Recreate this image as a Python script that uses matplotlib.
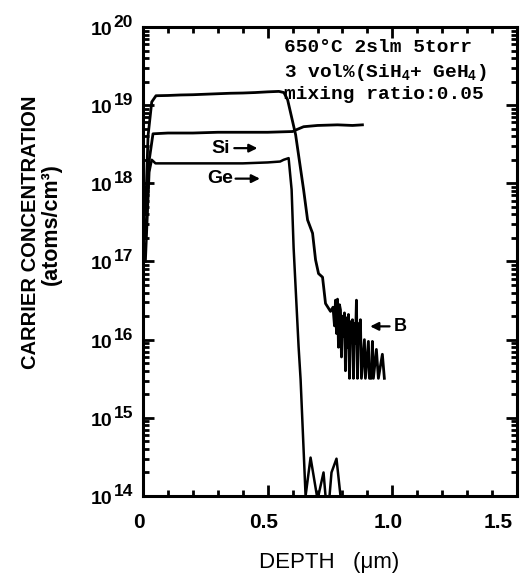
import matplotlib.pyplot as plt
import numpy as np
import matplotlib.transforms as mtransforms
from matplotlib.ticker import MultipleLocator, LogLocator, NullFormatter

plt.rcParams['font.family'] = ['Liberation Sans', 'DejaVu Sans']
plt.rcParams['font.weight'] = 'bold'
plt.rcParams['mathtext.fontset'] = 'custom'
plt.rcParams['mathtext.rm'] = 'Liberation Sans:bold'
plt.rcParams['mathtext.bf'] = 'Liberation Sans:bold'
plt.rcParams['mathtext.it'] = 'Liberation Sans:bold'

# boron profile (top curve with noisy tail)
b_depth = [0.010, 0.020, 0.035, 0.052, 0.10, 0.15, 0.20, 0.25, 0.30, 0.35, 0.40,
           0.45, 0.50, 0.545, 0.565, 0.58, 0.612, 0.644, 0.66, 0.68, 0.692, 0.704,
           0.72, 0.732, 0.752, 0.762, 0.768, 0.772, 0.776, 0.78, 0.784, 0.788,
           0.792, 0.796, 0.80, 0.804, 0.808, 0.812, 0.816, 0.820, 0.824, 0.828,
           0.832, 0.836, 0.84, 0.844, 0.848, 0.852, 0.856, 0.860, 0.864, 0.868,
           0.872, 0.876, 0.888, 0.892, 0.904, 0.908, 0.916, 0.92, 0.924, 0.936,
           0.944, 0.96, 0.968]
b_conc = [4e17, 4e18, 1.1e19, 1.32e19, 1.33e19, 1.35e19, 1.36e19, 1.38e19, 1.4e19,
          1.42e19, 1.43e19, 1.45e19, 1.48e19, 1.5e19, 1.45e19, 1.17e19, 4.2e18,
          8.3e17, 3.4e17, 2.3e17, 1.05e17, 7e16, 6.3e16, 2.9e16, 2.3e16, 2.6e16,
          1.5e16, 3.2e16, 1.2e16, 3.3e16, 8e15, 2.8e16, 2.4e16, 6e15, 2.0e16,
          1.1e16, 2.2e16, 4e15, 1.9e16, 8e15, 2.1e16, 3.2e15, 1.7e16, 1.1e16,
          1.8e16, 3.2e15, 1.6e16, 9e15, 3.2e16, 3.2e15, 1.6e16, 1.2e16, 1.8e16,
          3.2e15, 1.0e16, 3.2e15, 9.5e15, 3.2e15, 3.2e15, 9.5e15, 3.2e15, 7.5e15,
          3.2e15, 6.5e15, 3.2e15]

# Si curve
si_depth = [0.010, 0.025, 0.040, 0.10, 0.20, 0.30, 0.40, 0.50, 0.60, 0.612,
            0.644, 0.70, 0.78, 0.84, 0.88]
si_conc = [2e17, 2e18, 4.3e18, 4.4e18, 4.4e18, 4.5e18, 4.5e18, 4.5e18, 4.6e18,
           4.8e18, 5.3e18, 5.5e18, 5.6e18, 5.5e18, 5.6e18]

# Ge curve
ge_depth = [0.010, 0.025, 0.035, 0.05, 0.10, 0.20, 0.30, 0.40, 0.50, 0.55, 0.564,
            0.584, 0.596, 0.604, 0.624, 0.632, 0.652, 0.672, 0.70, 0.724, 0.74,
            0.756, 0.776, 0.792, 0.81]
ge_conc = [1e17, 1.4e18, 2.0e18, 1.8e18, 1.8e18, 1.8e18, 1.8e18, 1.8e18, 1.85e18,
           1.9e18, 2.0e18, 2.1e18, 8.3e17, 1.5e17, 8.1e15, 3.1e15, 1e14, 3.1e14,
           9e13, 2e14, 5e13, 2e14, 3e14, 1e14, 9e13]

x_ticks = [0, 0.5, 1.0, 1.5]
x_ticklabels = ['0', '0.5', '1.0', '1.5']
y_exponents = [14, 15, 16, 17, 18, 19, 20]

fig = plt.figure(figsize=(5.26, 5.78), dpi=100)
ax = fig.add_axes([0.2719, 0.1419, 0.711, 0.8114])

ax.plot(b_depth, b_conc, color='black', lw=2.0)
ax.plot(si_depth, si_conc, color='black', lw=2.0)
ax.plot(ge_depth, ge_conc, color='black', lw=1.8)

ax.set_yscale('log')
ax.set_xlim(0, 1.5)
ax.set_ylim(1e14, 1e20)

ax.set_xticks(x_ticks, labels=x_ticklabels)
ax.xaxis.set_minor_locator(MultipleLocator(0.1))
ax.yaxis.set_major_locator(LogLocator(base=10, numticks=10))
ax.yaxis.set_minor_locator(LogLocator(base=10, subs=np.arange(2, 10), numticks=20))
ax.yaxis.set_minor_formatter(NullFormatter())

ax.tick_params(which='both', direction='in', top=True, right=True, width=2, color='black')
ax.tick_params(which='major', length=8)
ax.tick_params(which='minor', length=4)
ax.tick_params(axis='x', which='major', pad=12, labelsize=15)
ax.tick_params(axis='y', which='major', labelleft=False)
for s in ax.spines.values():
    s.set_linewidth(2.2)

# shift x tick labels slightly left like the original
shift = mtransforms.ScaledTranslation(-4 / 100, 0, fig.dpi_scale_trans)
for lab in ax.get_xticklabels():
    lab.set_transform(lab.get_transform() + shift)
ax.get_xticklabels()[-1].set_horizontalalignment('right')

# y tick labels 10^n with large exponent
for e in y_exponents:
    ax.annotate('10', xy=(0, 10.0 ** e), xycoords=('axes fraction', 'data'),
                xytext=(-31, -8), textcoords='offset pixels', ha='right', va='baseline',
                fontsize=14)
    ax.annotate(str(e), xy=(0, 10.0 ** e), xycoords=('axes fraction', 'data'),
                xytext=(-10, 0), textcoords='offset pixels', ha='right', va='baseline',
                fontsize=12.5)

fig.text(329 / 526, 1 - 568 / 578, 'DEPTH   (μm)', fontsize=16, fontweight='normal',
         ha='center', va='baseline')
fig.text(31 / 526, 1 - 232 / 578, 'CARRIER CONCENTRATION', rotation=90,
         ha='center', va='center', fontsize=14.5)
fig.text(51 / 526, 1 - 224 / 578, '(atoms/cm³)', rotation=90,
         ha='center', va='center', fontsize=15.5)

# condition text
cond = dict(fontsize=14, va='center', ha='left', family='Liberation Mono', fontweight='bold')
ax.text(0.564, 10 ** 19.74, '650°C 2slm 5torr', **cond)
ax.text(0.564, 10 ** 19.42, '3 vol%(SiH$_4$+ GeH$_4$)', **cond)
ax.text(0.564, 10 ** 19.13, 'mixing ratio:0.05', **cond)

# curve labels
arrow = dict(arrowstyle='-|>', color='black', lw=1.6, mutation_scale=12)
ax.annotate('', xy=(0.47, 10 ** 18.45), xytext=(0.355, 10 ** 18.45), arrowprops=arrow)
ax.text(0.31, 10 ** 18.45, 'Si', fontsize=14, ha='center', va='center')
ax.annotate('', xy=(0.48, 10 ** 18.06), xytext=(0.36, 10 ** 18.06), arrowprops=arrow)
ax.text(0.31, 10 ** 18.06, 'Ge', fontsize=14, ha='center', va='center')
ax.annotate('', xy=(0.9, 10 ** 16.17), xytext=(1.0, 10 ** 16.17), arrowprops=arrow)
ax.text(1.005, 10 ** 16.17, 'B', fontsize=13, ha='left', va='center')

fig.savefig('out.png', dpi=100)
